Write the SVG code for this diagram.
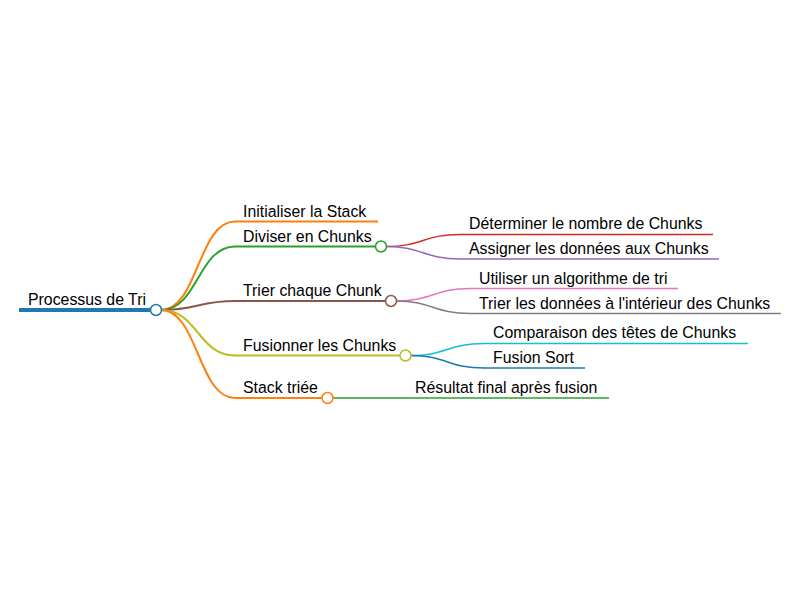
<svg xmlns="http://www.w3.org/2000/svg" width="800" height="600" viewBox="0 0 800 600">
<style>
text{font-family:"Liberation Sans",Arial,sans-serif;font-size:15.85px;fill:#000}
.l{fill:none;stroke-linecap:round}
.w1{stroke-width:2}
.w2{stroke-width:1.5}
circle{fill:#fff;stroke-width:1.5}
</style>
<rect width="800" height="600" fill="#fff"/>
<g id="connectors">
<path class="l w1" stroke="#ff7f0e" d="M161,310 C198,310 198,221.5 235,221.5"/>
<path class="l w1" stroke="#2ca02c" d="M161,310 C198,310 198,246.5 235,246.5"/>
<path class="l w1" stroke="#8c564b" d="M161,310 C198,310 198,301 235,301"/>
<path class="l w1" stroke="#bcbd22" d="M161,310 C198,310 198,355.5 235,355.5"/>
<path class="l w1" stroke="#ff7f0e" d="M161,310 C198,310 198,398 235,398"/>
<path class="l w2" stroke="#d62728" d="M386,246.5 C423,246.5 423,234.5 460,234.5"/>
<path class="l w2" stroke="#9467bd" d="M386,246.5 C423,246.5 423,259 460,259"/>
<path class="l w2" stroke="#e377c2" d="M396,301 C433,301 433,288.5 470,288.5"/>
<path class="l w2" stroke="#7f7f7f" d="M396,301 C433,301 433,313.5 470,313.5"/>
<path class="l w2" stroke="#17becf" d="M411,355.5 C447,355.5 447,343.5 484,343.5"/>
<path class="l w2" stroke="#1f77b4" d="M411,355.5 C447,355.5 447,368 484,368"/>
<path class="l w2" stroke="#2ca02c" d="M332,398 L406,398"/>
</g>
<g id="root">
<line x1="19" y1="310" x2="156" y2="310" stroke="#1f77b4" stroke-width="4"/>
<text x="28" y="305">Processus de Tri</text>
<circle cx="156" cy="310" r="5.5" stroke="#1f77b4"/>
</g>
<g id="n-init">
<line class="w1" x1="235" y1="221.5" x2="378" y2="221.5" stroke="#ff7f0e"/>
<text x="243" y="217">Initialiser la Stack</text>
</g>
<g id="n-diviser">
<line class="w1" x1="235" y1="246.5" x2="376" y2="246.5" stroke="#2ca02c"/>
<text x="243" y="242">Diviser en Chunks</text>
<circle cx="381" cy="246.5" r="5.5" stroke="#2ca02c"/>
</g>
<g id="n-trier">
<line class="w1" x1="235" y1="301" x2="386" y2="301" stroke="#8c564b"/>
<text x="243" y="296">Trier chaque Chunk</text>
<circle cx="391" cy="301" r="5.5" stroke="#8c564b"/>
</g>
<g id="n-fusionner">
<line class="w1" x1="235" y1="355.5" x2="400" y2="355.5" stroke="#bcbd22"/>
<text x="243" y="351">Fusionner les Chunks</text>
<circle cx="405.5" cy="355.5" r="5.5" stroke="#bcbd22"/>
</g>
<g id="n-stack">
<line class="w1" x1="235" y1="398" x2="322" y2="398" stroke="#ff7f0e"/>
<text x="243" y="393">Stack triée</text>
<circle cx="327.5" cy="398" r="5.5" stroke="#ff7f0e"/>
</g>
<g id="n-determiner">
<line class="w2" x1="460" y1="234.5" x2="713" y2="234.5" stroke="#d62728"/>
<text x="469" y="229">Déterminer le nombre de Chunks</text>
</g>
<g id="n-assigner">
<line class="w2" x1="460" y1="259" x2="719" y2="259" stroke="#9467bd"/>
<text x="469" y="254">Assigner les données aux Chunks</text>
</g>
<g id="n-utiliser">
<line class="w2" x1="470" y1="288.5" x2="678" y2="288.5" stroke="#e377c2"/>
<text x="479" y="284">Utiliser un algorithme de tri</text>
</g>
<g id="n-trier-donnees">
<line class="w2" x1="470" y1="313.5" x2="781" y2="313.5" stroke="#7f7f7f"/>
<text x="479" y="309">Trier les données à l'intérieur des Chunks</text>
</g>
<g id="n-comparaison">
<line class="w2" x1="484" y1="343.5" x2="748" y2="343.5" stroke="#17becf"/>
<text x="493" y="338">Comparaison des têtes de Chunks</text>
</g>
<g id="n-fusion-sort">
<line class="w2" x1="484" y1="368" x2="585" y2="368" stroke="#1f77b4"/>
<text x="493" y="363">Fusion Sort</text>
</g>
<g id="n-resultat">
<line class="w2" x1="406" y1="398" x2="609" y2="398" stroke="#2ca02c"/>
<text x="415" y="393">Résultat final après fusion</text>
</g>
</svg>
